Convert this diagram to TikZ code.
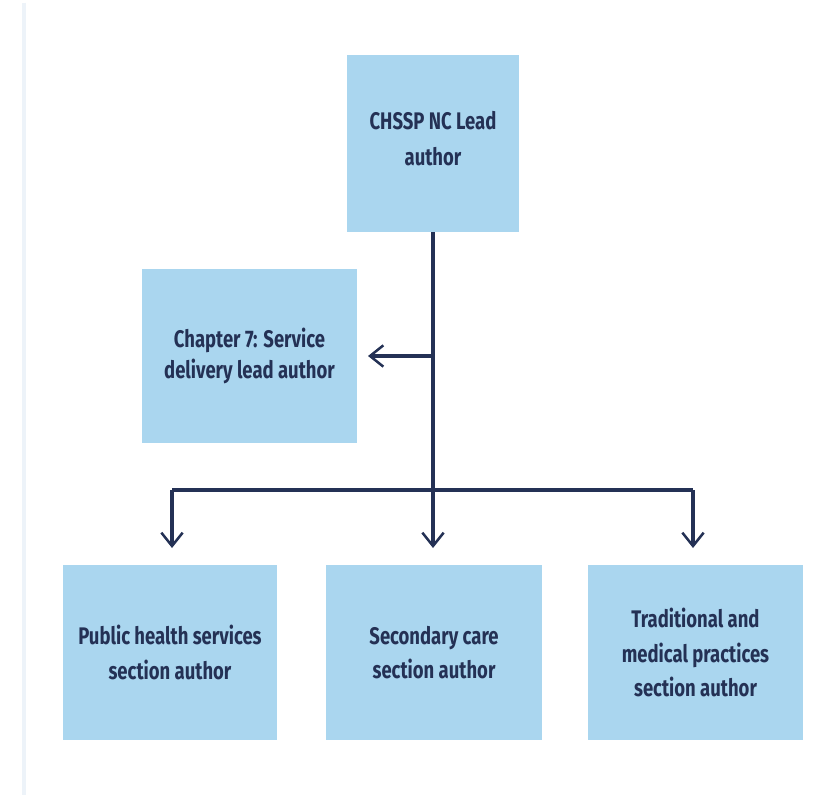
\documentclass[tikz,border=0pt]{standalone}
\usepackage{fontspec}
\setmainfont{Fira Sans}
\newfontfamily\boxfont[FakeStretch=0.77]{Fira Sans Bold}
\usetikzlibrary{arrows.meta}
\definecolor{boxfill}{HTML}{AAD6EF}
\definecolor{navy}{HTML}{243155}
\definecolor{edgeline}{HTML}{EDF3F9}
\tikzset{
  box/.style={fill=boxfill, draw=none, inner sep=0pt, align=center,
    text=navy, font=\boxfont\fontsize{18}{26}\selectfont},
  conn/.style={draw=navy, line width=2.3pt,
    -{Straight Barb[length=10pt,width=16pt,line width=1.9pt]}},
  plain/.style={draw=navy, line width=2.3pt}
}
\begin{document}
\begin{tikzpicture}[x=0.75pt,y=-0.75pt]
\useasboundingbox (0,0) rectangle (833,795);
\fill[white] (0,0) rectangle (833,795);
\draw[edgeline, line width=3pt] (24,3) coordinate (e1) -- (24,795) coordinate (e2);

\node[box, minimum width=129pt, minimum height=132.75pt] (top) at (433,143.5) {};
\node[box, font=\boxfont\fontsize{18}{27}\selectfont] (toptext) at (433,139) {CHSSP NC Lead\\author};
\node[box, minimum width=161.25pt, minimum height=130.5pt] (ch) at (249.5,356) {};
\node[box, font=\boxfont\fontsize{18}{23.5}\selectfont] (chtext) at (249.5,356) {Chapter 7: Service\\delivery lead author};
\node[box, minimum width=160.5pt, minimum height=131.25pt] (pub) at (170,652.5) {Public health services\\section author};
\node[box, minimum width=162pt, minimum height=131.25pt] (sec) at (434,652.5) {Secondary care\\section author};
\node[box, minimum width=161.25pt, minimum height=131.25pt] (tra) at (695.5,652.5) {Traditional and\\medical practices\\section author};

\coordinate (j1) at (433,356);
\coordinate (hl) at (172,490);
\coordinate (hr) at (693,490);
\coordinate (jm) at (433,490);
\coordinate (al) at (172,548);
\coordinate (am) at (433,548);
\coordinate (ar) at (693,548);
\coordinate (ac) at (368,356);

\draw[plain] (top.south -| j1) -- (jm);
\draw[conn] (j1) -- (ac);
\draw[plain] (hl) -- (hr);
\draw[conn] (jm) -- (am);
\draw[conn] (hl) -- (al);
\draw[conn] (hr) -- (ar);
\end{tikzpicture}
\end{document}
